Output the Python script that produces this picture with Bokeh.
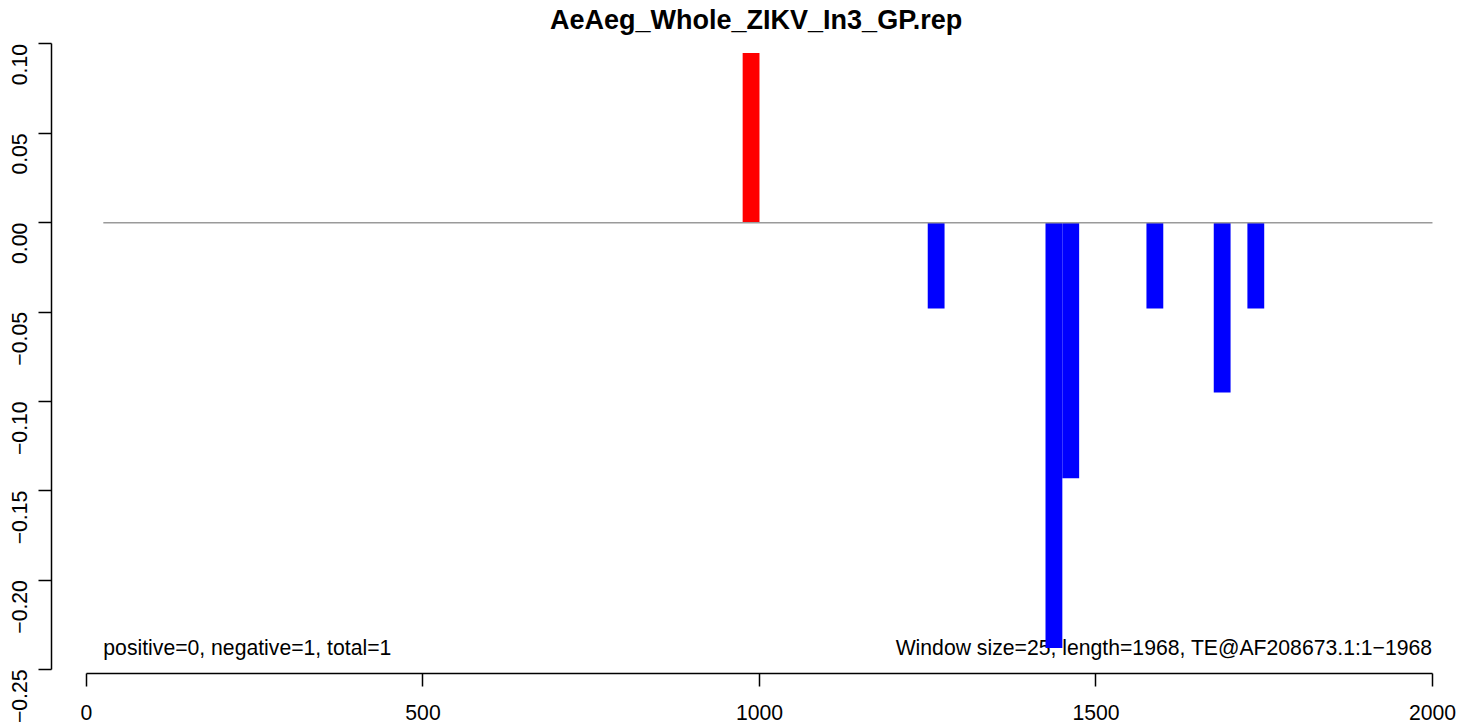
import math
from bokeh.plotting import figure
from bokeh.models import Range1d, FixedTicker, Label
from bokeh.core.properties import value
from bokeh.embed import file_html
from bokeh.resources import INLINE

# ---- data ----
title_text = "AeAeg_Whole_ZIKV_In3_GP.rep"
window_size = 25
window_start = [975, 1250, 1425, 1450, 1575, 1675, 1725]
window_value = [0.095, -0.048, -0.238, -0.143, -0.048, -0.095, -0.048]
baseline_x = [25, 2000]
x_ticks = [0, 500, 1000, 1500, 2000]
x_tick_labels = ["0", "500", "1000", "1500", "2000"]
y_ticks = [-0.25, -0.20, -0.15, -0.10, -0.05, 0.0, 0.05, 0.10]
y_tick_labels = ["\u22120.25", "\u22120.20", "\u22120.15", "\u22120.10", "\u22120.05", "0.00", "0.05", "0.10"]
left_note = "positive=0, negative=1, total=1"
right_note = "Window size=25, length=1968, TE@AF208673.1:1\u22121968"

FONT = "Liberation Sans"
FS = "21.2px"

p = figure(width=1460, height=724, output_backend="svg", toolbar_location=None,
           x_range=Range1d(-52, 2014.9), y_range=Range1d(-0.25227, 0.12434),
           min_border_left=51, min_border_right=18, min_border_top=0, min_border_bottom=51)
p.grid.visible = False
p.outline_line_color = None
p.background_fill_color = "white"
p.border_fill_color = "white"

# axes
for ax, ticks, labels, bounds in ((p.xaxis[0], x_ticks, x_tick_labels, (0, 2000)),
                                  (p.yaxis[0], y_ticks, y_tick_labels, (-0.25, 0.10))):
    ax.ticker = FixedTicker(ticks=ticks)
    ax.major_label_overrides = {t: l for t, l in zip(ticks, labels)}
    ax.bounds = bounds
    ax.minor_tick_line_color = None
    ax.major_tick_in = 0
    ax.major_tick_out = 13
    ax.axis_line_width = 1.5
    ax.major_tick_line_width = 1.5
    ax.axis_line_color = "black"
    ax.major_tick_line_color = "black"
    ax.major_label_text_font = FONT
    ax.major_label_text_font_size = FS
    ax.major_label_text_color = "black"

p.xaxis.major_label_standoff = 18
p.yaxis.major_label_standoff = 19
p.yaxis.major_label_orientation = math.pi / 2

# notes (drawn beneath bars)
p.text(x=[baseline_x[0]], y=[-0.2377], text=[left_note], text_align="left",
       text_baseline="alphabetic", text_font=value(FONT), text_font_size=FS, text_color="black")
p.text(x=[2000], y=[-0.2377], text=[right_note], text_align="right",
       text_baseline="alphabetic", text_font=value(FONT), text_font_size=FS, text_color="black")

# bars
lefts = window_start
rights = [s + window_size for s in window_start]
colors = ["red" if v > 0 else "blue" for v in window_value]
p.quad(left=lefts, right=rights, bottom=[0] * len(window_value), top=window_value,
       fill_color=colors, line_color=None)

# zero line
p.line(x=baseline_x, y=[0, 0], line_color="#9a9a9a", line_width=1.5)

# title (inside the top of the frame, above the axis bounds)
p.add_layout(Label(x=995, y=0.1137, text=title_text, text_align="center",
                   text_baseline="alphabetic", text_font=FONT, text_font_style="bold",
                   text_font_size="27px", text_color="black"))

open("out.html", "w").write(file_html(p, INLINE))
